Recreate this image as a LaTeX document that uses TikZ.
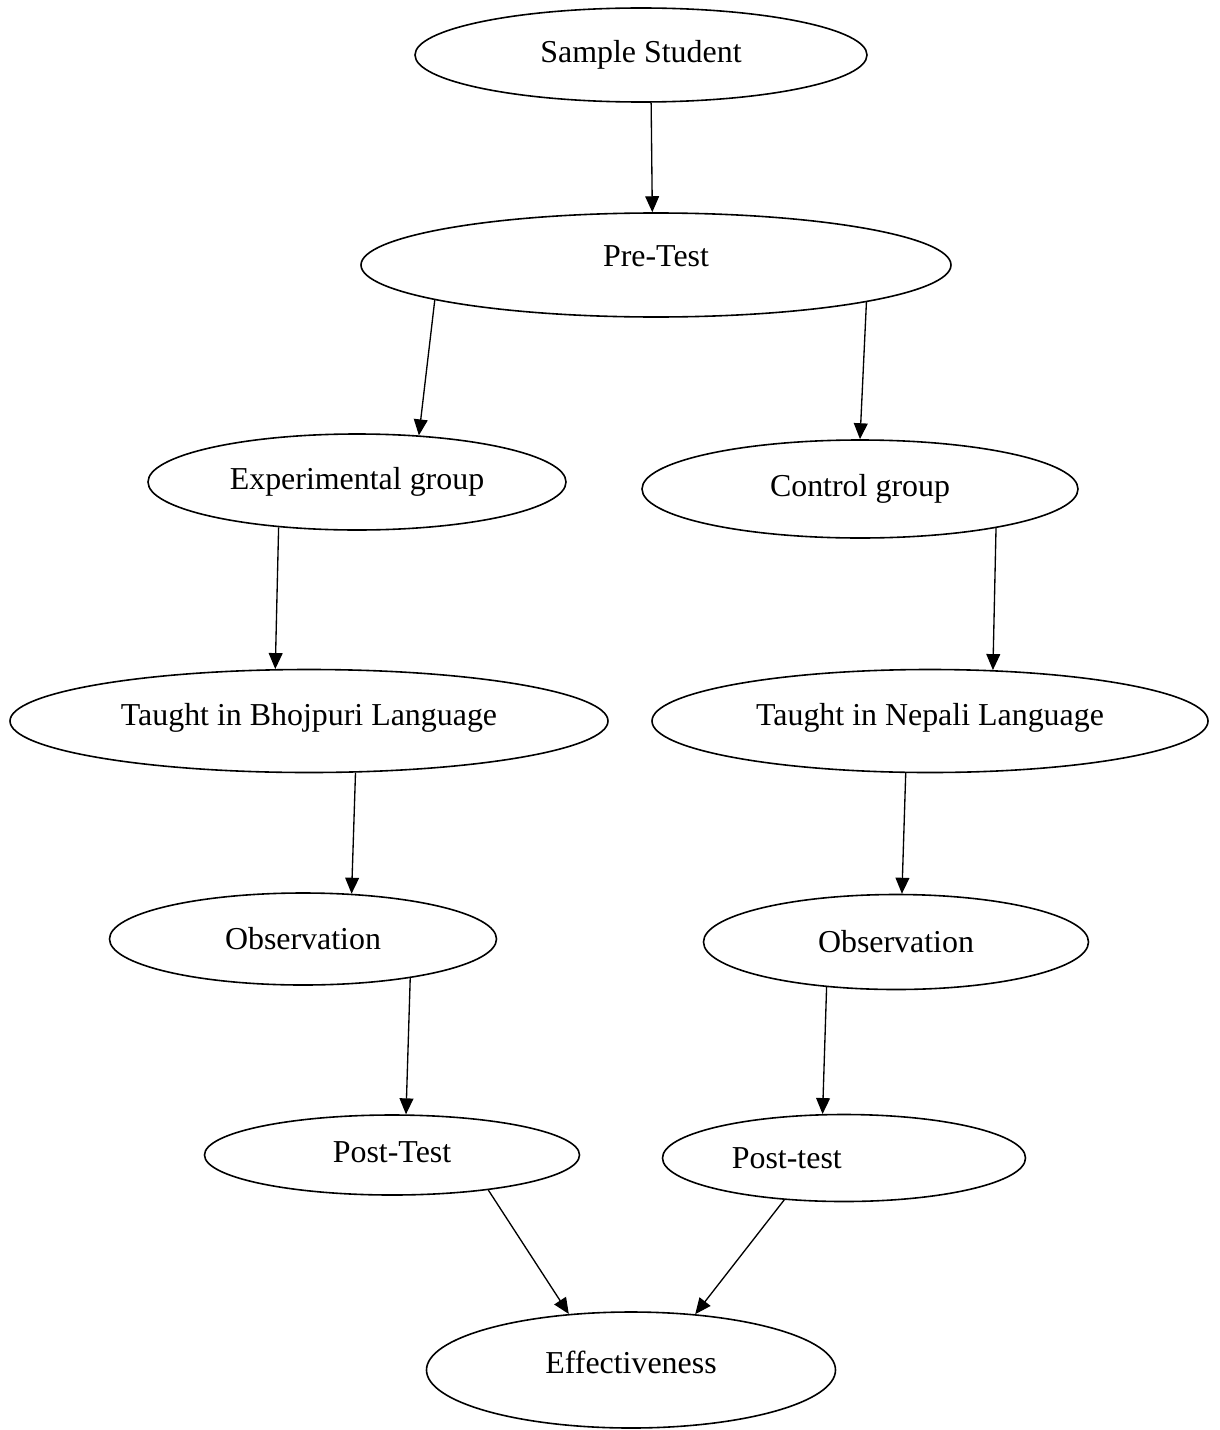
\documentclass[tikz,border=0pt]{standalone}
\usepackage{fontspec}
\setmainfont{Liberation Serif}
\usetikzlibrary{shapes.geometric, arrows.meta}

\begin{document}
\begin{tikzpicture}[x=0.376pt, y=-0.376pt, font=\fontsize{12}{14}\selectfont,
    >={Triangle[length=6pt,width=5.2pt]},
    oval/.style 2 args={draw, ellipse, line width=0.6pt, inner sep=0pt,
        minimum width=#1*0.376pt, minimum height=#2*0.376pt},
    link/.style={->, line width=0.5pt}]
        \useasboundingbox (0,0) rectangle (1219,1430);

        % top
        \node[oval={452}{94}] (sample) at (641,55) {\raisebox{2.4pt}{Sample Student}};
        \node[oval={590}{104}] (pre) at (656,265) {\raisebox{6.8pt}{Pre-Test}};

        % left branch
        \node[oval={418}{96}] (exp) at (357,482) {Experimental group};
        \node[oval={598}{103}] (bhoj) at (309,721) {\raisebox{5.2pt}{Taught in Bhojpuri Language}};
        \node[oval={387}{92}] (obsl) at (303,939) {Observation};
        \node[oval={375}{80}] (postl) at (392,1155) {\raisebox{2.2pt}{Post-Test}};

        % right branch
        \node[oval={436}{98}] (control) at (860,489) {Control group};
        \node[oval={556}{103}] (nepali) at (930,721) {\raisebox{5.2pt}{Taught in Nepali Language}};
        \node[oval={385}{95}] (obsr) at (896,942) {Observation};
        \node[oval={363}{87}] (postr) at (844,1158) {Post-test\hspace*{43pt}};

        \node[oval={409}{116}] (eff) at (631,1370) {\raisebox{6pt}{Effectiveness}};

        \draw[link] (sample.-78) -- (pre.94);
        \draw[link] (pre.189) -- (exp.37);
        \draw[link] (pre.350) -- (control.north);
        \draw[link] (exp.210) -- (bhoj.123);
        \draw[link] (control.-16) -- (nepali.39);
        \draw[link] (bhoj.-48) -- (obsl.43);
        \draw[link] (nepali.245) -- (obsr.83);
        \draw[link] (obsl.-20) -- (postl.71);
        \draw[link] (obsr.213) -- (postr.116);
        \draw[link] (postl.-20) -- (eff.138);
        \draw[link] (postr.215) -- (eff.41);
    \end{tikzpicture}
\end{document}
